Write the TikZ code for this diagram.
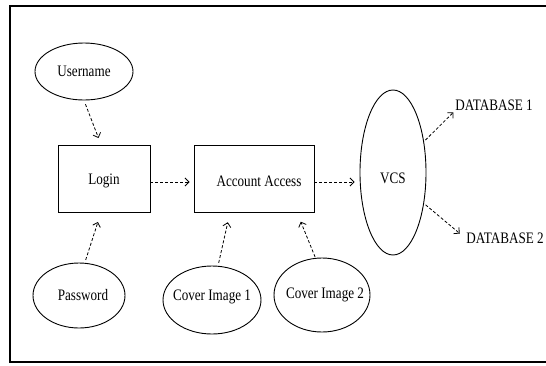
\documentclass[tikz,border=0pt]{standalone}
\usepackage{fontspec}
\setmainfont{Liberation Serif}[FakeStretch=0.82]
\usetikzlibrary{shapes.geometric,arrows.meta}
\newcommand{\lowertext}[2]{\raisebox{-#1}[\height][\depth]{#2}}
\begin{document}
\begin{tikzpicture}[x=1pt,y=1pt,
  every node/.style={font=\fontsize{16}{18}\selectfont},
  oval/.style={draw,ellipse,line width=0.9pt,inner xsep=-20pt,inner ysep=0pt},
  boxnode/.style={draw,rectangle,line width=0.9pt,inner sep=0pt},
  conn/.style={dash pattern=on 3pt off 2pt,line width=0.8pt,-{Straight Barb[length=4pt,width=8pt]}},
  plain/.style={inner sep=1pt}
]
\useasboundingbox (0,0) rectangle (546,-365);
\draw[line width=1.6pt] (546,-6) -- (10,-6) -- (10,-362) -- (546,-362);

\node[oval,minimum width=98pt,minimum height=57pt] (user) at (84,-71.5) {Username};
\node[boxnode,minimum width=92pt,minimum height=67pt] (login) at (104,-178.5) {\lowertext{2pt}{Login}};
\node[boxnode,minimum width=120pt,minimum height=67pt] (acc) at (254,-178.5) {\hspace*{10pt}\lowertext{3pt}{Account Access}};
\node[oval,minimum width=66pt,minimum height=165pt] (vcs) at (393,-172.5) {\lowertext{6pt}{VCS}};
\node[plain] (db1) at (494,-105) {DATABASE 1};
\node[plain] (db2) at (505,-238) {DATABASE 2};
\node[oval,minimum width=92pt,minimum height=65pt] (pass) at (79,-295.5) {\hspace*{8pt}Password};
\node[oval,minimum width=98pt,minimum height=68pt] (c1) at (212,-300) {\lowertext{-3pt}{Cover Image 1}};
\node[oval,minimum width=96pt,minimum height=74pt] (c2) at (322,-295) {\hspace*{6pt}Cover Image 2};

\draw[conn,shorten <=4pt,shorten >=7pt] (user.south) -- ([xshift=-3pt]login.north);
\draw[conn,shorten <=3pt,shorten >=10pt] (pass.80) -- ([xshift=-3pt]login.south);
\draw[conn,shorten >=4pt] ([yshift=-3.5pt]login.east) -- ([yshift=-3.5pt]acc.west);
\draw[conn,shorten >=5pt] ([yshift=-3.5pt]acc.east) -- ([yshift=-3.5pt]acc.east -| vcs.west);
\draw[conn,shorten <=3pt,shorten >=10pt] (c1.80) -- ([xshift=-24pt]acc.south);
\draw[conn,shorten <=1pt,shorten >=10pt] (c2.100) -- ([xshift=43pt]acc.south);
\draw[conn,shorten <=2pt,shorten >=1pt] (vcs.45) -- (db1.south west);
\draw[conn,shorten <=2pt,shorten >=7pt] (vcs.-45) -- (db2.west);
\end{tikzpicture}
\end{document}
